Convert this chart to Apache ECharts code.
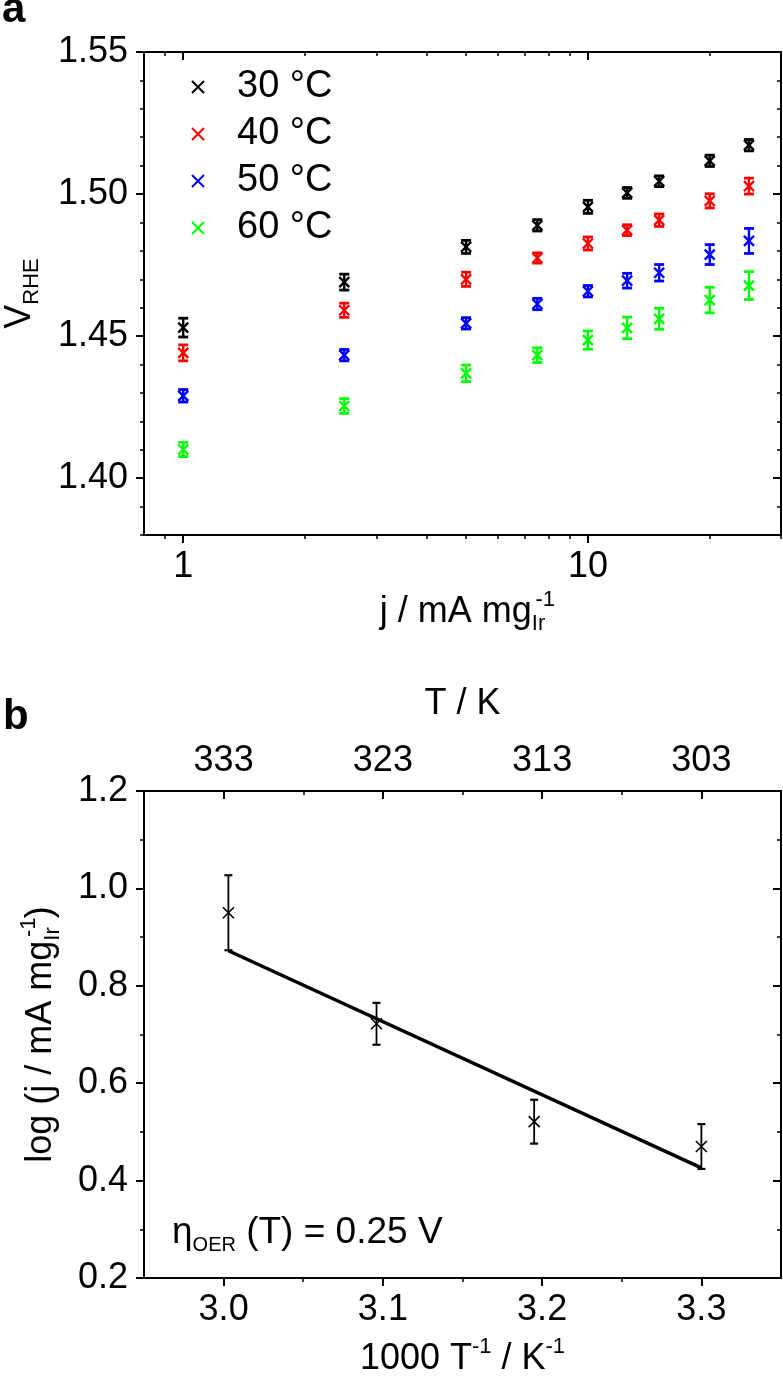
<!DOCTYPE html>
<html>
<head>
<meta charset="utf-8">
<script src="https://cdn.jsdelivr.net/npm/echarts@6/dist/echarts.min.js"></script>
<style>
html,body{margin:0;padding:0;background:#ffffff;}
#c{width:783px;height:1384px;}
</style>
</head>
<body>
<div id="c"></div>
<script>
// ---------------- Panel a data ----------------
const currentA = [1, 2.5, 5, 7.5, 10, 12.5, 15, 20, 25];          // j / mA mg_Ir^-1
const tempLabels = ['30 °C', '40 °C', '50 °C', '60 °C'];
const v30 = [1.453, 1.469, 1.4814, 1.489, 1.4955, 1.5004, 1.5045, 1.5117, 1.5172];
const e30 = [0.0033, 0.0028, 0.0023, 0.0020, 0.0023, 0.0019, 0.0019, 0.0020, 0.0020];
const v40 = [1.4441, 1.4591, 1.4700, 1.4775, 1.4826, 1.4873, 1.4908, 1.4976, 1.5028];
const e40 = [0.0028, 0.0025, 0.0025, 0.0018, 0.0023, 0.0019, 0.0022, 0.0025, 0.0028];
const v50 = [1.4290, 1.4433, 1.4545, 1.4613, 1.4658, 1.4695, 1.4723, 1.4787, 1.4835];
const e50 = [0.0022, 0.0020, 0.0020, 0.0020, 0.0020, 0.0026, 0.0029, 0.0035, 0.0044];
const v60 = [1.4101, 1.4254, 1.4369, 1.4433, 1.4486, 1.4529, 1.4561, 1.4627, 1.4678];
const e60 = [0.0025, 0.0026, 0.0029, 0.0026, 0.0032, 0.0038, 0.0037, 0.0045, 0.0049];
const aXMajor = [1, 10];
const aXMinor = [0.9, 2, 3, 4, 5, 6, 7, 8, 9, 20, 30];
const aYMajor = [1.40, 1.45, 1.50, 1.55];
const aYMinor = [1.38, 1.39, 1.41, 1.42, 1.43, 1.44, 1.46, 1.47, 1.48, 1.49, 1.51, 1.52, 1.53, 1.54];

// ---------------- Panel b data ----------------
const invT = [3.003, 3.096, 3.195, 3.300];          // 1000 T^-1 / K^-1
const logJ = [0.950, 0.722, 0.521, 0.470];
const logJErr = [0.077, 0.043, 0.045, 0.046];
const fitInvT = [3.003, 3.300];
const fitLogJ = [0.872, 0.426];
const bXMajor = [3.0, 3.1, 3.2, 3.3];
const bXMinor = [3.05, 3.15, 3.25];
const bTMajor = [303, 313, 323, 333];
const bTMinor = [308, 318, 328];
const bYMajor = [0.2, 0.4, 0.6, 0.8, 1.0, 1.2];
const bYMinor = [0.3, 0.5, 0.7, 0.9, 1.1];

// ---------------- styling ----------------
const FONT = '"Liberation Sans", Arial, Helvetica, sans-serif';
const BLACK = '#000000';
const colorsA = ['#000000', '#ff0000', '#0000ff', '#00ff00'];
const XSYM = 'path://M0,0L10,10M0,10L10,0';
const TICKFS = 36;
const TITLEFS = 36;

const rich = {
  n:   {fontSize: TITLEFS, fontFamily: FONT, color: BLACK, lineHeight: 46},
  np:  {fontSize: TITLEFS, fontFamily: FONT, color: BLACK, lineHeight: 46, padding: [0, 0, 0, 9]},
  sub: {fontSize: 22, fontFamily: FONT, color: BLACK, lineHeight: 16, verticalAlign: 'bottom'},
  sup: {fontSize: 22, fontFamily: FONT, color: BLACK, lineHeight: 26, verticalAlign: 'top'},
  sup0:{fontSize: 22, fontFamily: FONT, color: BLACK, lineHeight: 26, verticalAlign: 'top', width: 0}
};

function axis(o) {
  const a = {
    type: 'value',
    gridIndex: o.grid,
    position: o.pos,
    min: o.min, max: o.max,
    inverse: !!o.inverse,
    splitLine: {show: false},
    axisLine: {show: !!o.line, onZero: false, lineStyle: {color: BLACK, width: 2}},
    axisTick: o.ticks ? {
      show: true, inside: !!o.inside, length: o.len || 8,
      customValues: o.ticks, lineStyle: {color: BLACK, width: o.tw || 2}
    } : {show: false},
    axisLabel: o.labels ? {
      show: true, customValues: o.labels, formatter: o.fmt, margin: o.margin,
      fontSize: TICKFS, fontFamily: FONT, color: BLACK
    } : {show: false},
    silent: true
  };
  if (o.name) {
    a.name = o.name;
    a.nameLocation = 'middle';
    a.nameGap = o.nameGap;
    if (o.nameRotate != null) a.nameRotate = o.nameRotate;
    a.nameTextStyle = {fontSize: TITLEFS, fontFamily: FONT, color: BLACK, rich: rich};
  }
  return a;
}

const L = Math.log10;
const aMin = 0.8, aMax = 30;

const xAxes = [
  // 0: panel a data axis (log)
  {type: 'log', logBase: 10, gridIndex: 0, min: aMin, max: aMax, show: false, splitLine: {show: false}},
  // 1: panel a bottom, major ticks + labels (decades)
  axis({grid: 0, pos: 'bottom', min: L(aMin), max: L(aMax), line: true,
        ticks: aXMajor.map(L), labels: aXMajor.map(L), margin: 14,
        fmt: v => String(Math.round(Math.pow(10, v))),
        name: '{n|j / mA mg}{sub|Ir}{sup0|-1}', nameGap: 54}),
  // 2: panel a bottom minor ticks
  axis({grid: 0, pos: 'bottom', min: L(aMin), max: L(aMax), ticks: aXMinor.map(L), len: 4, tw: 1.5}),
  // 3: panel a top mirror
  axis({grid: 0, pos: 'top', min: L(aMin), max: L(aMax), line: true, ticks: aXMajor.map(L), inside: true}),
  // 4: panel a top minor
  axis({grid: 0, pos: 'top', min: L(aMin), max: L(aMax), ticks: aXMinor.map(L), inside: true, len: 4, tw: 1.5}),
  // 5: panel b data axis, bottom
  axis({grid: 1, pos: 'bottom', min: 2.95, max: 3.35, line: true,
        ticks: bXMajor, labels: bXMajor, margin: 14, fmt: v => v.toFixed(1),
        name: '{n|1000 T}{sup|-1}{n| / K}{sup|-1}', nameGap: 58}),
  // 6: panel b bottom minor
  axis({grid: 1, pos: 'bottom', min: 2.95, max: 3.35, ticks: bXMinor, len: 4, tw: 1.5}),
  // 7: panel b top temperature axis
  axis({grid: 1, pos: 'top', min: 298, max: 338, inverse: true, line: true,
        ticks: bTMajor, inside: true, labels: bTMajor, margin: 12, fmt: v => String(v),
        name: '{n|T / K}', nameGap: 64}),
  // 8: panel b top minor
  axis({grid: 1, pos: 'top', min: 298, max: 338, inverse: true, ticks: bTMinor, inside: true, len: 4, tw: 1.5})
];

const yAxes = [
  // 0: panel a data axis, left
  axis({grid: 0, pos: 'left', min: 1.38, max: 1.55, line: true,
        ticks: aYMajor, labels: aYMajor, margin: 16, fmt: v => v.toFixed(2),
        name: '{n|V}{sub|RHE}', nameGap: 101, nameRotate: 90}),
  // 1: left minor
  axis({grid: 0, pos: 'left', min: 1.38, max: 1.55, ticks: aYMinor, len: 4, tw: 1.5}),
  // 2: right mirror
  axis({grid: 0, pos: 'right', min: 1.38, max: 1.55, line: true, ticks: aYMajor, inside: true}),
  // 3: right minor
  axis({grid: 0, pos: 'right', min: 1.38, max: 1.55, ticks: aYMinor, inside: true, len: 4, tw: 1.5}),
  // 4: panel b data axis, left
  axis({grid: 1, pos: 'left', min: 0.2, max: 1.2, line: true,
        ticks: bYMajor, labels: bYMajor, margin: 16, fmt: v => v.toFixed(1),
        name: '{n|log (j / mA mg}{sub|Ir}{sup0|-1}{np|)}', nameGap: 80, nameRotate: 90}),
  // 5: left minor
  axis({grid: 1, pos: 'left', min: 0.2, max: 1.2, ticks: bYMinor, len: 4, tw: 1.5}),
  // 6: right mirror
  axis({grid: 1, pos: 'right', min: 0.2, max: 1.2, line: true, ticks: bYMajor, inside: true}),
  // 7: right minor
  axis({grid: 1, pos: 'right', min: 0.2, max: 1.2, ticks: bYMinor, inside: true, len: 4, tw: 1.5})
];

function errSeries(xs, ys, es, color, xi, yi, capHalf, lw, capW) {
  return {
    type: 'custom', xAxisIndex: xi, yAxisIndex: yi, silent: true, clip: false,
    data: xs.map((x, i) => [x, ys[i], es[i]]),
    encode: {x: 0, y: 1},
    renderItem: function (params, api) {
      const x = api.value(0), y = api.value(1), e = api.value(2);
      const p1 = api.coord([x, y + e]);
      const p2 = api.coord([x, y - e]);
      const st = {stroke: color, lineWidth: lw, fill: null};
      const cs = {stroke: color, lineWidth: capW, fill: null};
      return {type: 'group', children: [
        {type: 'line', shape: {x1: p1[0], y1: p1[1], x2: p2[0], y2: p2[1]}, style: st},
        {type: 'line', shape: {x1: p1[0] - capHalf, y1: p1[1], x2: p1[0] + capHalf, y2: p1[1]}, style: cs},
        {type: 'line', shape: {x1: p2[0] - capHalf, y1: p2[1], x2: p2[0] + capHalf, y2: p2[1]}, style: cs}
      ]};
    }
  };
}

function markerSeries(name, xs, ys, color, xi, yi, size, bw) {
  return {
    type: 'scatter', name: name, xAxisIndex: xi, yAxisIndex: yi, silent: true,
    symbol: XSYM, symbolSize: size,
    data: xs.map((x, i) => [x, ys[i]]),
    itemStyle: {color: 'rgba(0,0,0,0)', borderColor: color, borderWidth: bw, opacity: 1},
    emphasis: {disabled: true}
  };
}

const seriesA = [v30, v40, v50, v60];
const errsA = [e30, e40, e50, e60];
const series = [];
seriesA.forEach((vals, i) => {
  series.push(errSeries(currentA, vals, errsA[i], colorsA[i], 0, 0, 5, 2.4, 2.8));
});
seriesA.forEach((vals, i) => {
  series.push(markerSeries(tempLabels[i], currentA, vals, colorsA[i], 0, 0, 10, 2.4));
});
// panel b
series.push({
  type: 'line', xAxisIndex: 5, yAxisIndex: 4, silent: true,
  data: fitInvT.map((x, i) => [x, fitLogJ[i]]),
  symbol: 'none', lineStyle: {color: BLACK, width: 3.5}
});
series.push(errSeries(invT, logJ, logJErr, BLACK, 5, 4, 4, 1.8, 2.2));
series.push(markerSeries('b', invT, logJ, BLACK, 5, 4, 11, 1.6));

const option = {
  animation: false,
  backgroundColor: '#ffffff',
  grid: [
    {left: 144, top: 52, width: 637, height: 483, outerBoundsMode: 'none', containLabel: false, show: false},
    {left: 144, top: 791, width: 637, height: 487, outerBoundsMode: 'none', containLabel: false, show: false}
  ],
  xAxis: xAxes,
  yAxis: yAxes,
  legend: {
    orient: 'vertical', left: 191, top: 67, padding: 0, itemGap: 7,
    itemWidth: 12, itemHeight: 12, selectedMode: false,
    textStyle: {fontSize: 38, fontFamily: FONT, color: BLACK, lineHeight: 40, padding: [0, 0, 0, 28]},
    data: tempLabels.map((t, i) => ({
      name: t, icon: XSYM,
      itemStyle: {color: 'rgba(0,0,0,0)', borderColor: colorsA[i], borderWidth: 2}
    }))
  },
  graphic: [
    {type: 'text', left: 2, top: -11, silent: true,
     style: {text: 'a', fontSize: 42, fontWeight: 'bold', fontFamily: FONT, fill: BLACK}},
    {type: 'text', left: 3, top: 696, silent: true,
     style: {text: 'b', fontSize: 42, fontWeight: 'bold', fontFamily: FONT, fill: BLACK}},
    {type: 'text', left: 172, top: 1214, silent: true,
     style: {text: '{n|η}{s|OER}{n| (T) = 0.25 V}',
       rich: {
         n: {fontSize: 37, fontFamily: FONT, fill: BLACK, lineHeight: 46},
         s: {fontSize: 20, fontFamily: FONT, fill: BLACK, lineHeight: 12, verticalAlign: 'bottom'}
       }}}
  ],
  series: series
};

const chart = echarts.init(document.getElementById('c'), null, {renderer: 'canvas', width: 783, height: 1384});
chart.setOption(option);
</script>
</body>
</html>
